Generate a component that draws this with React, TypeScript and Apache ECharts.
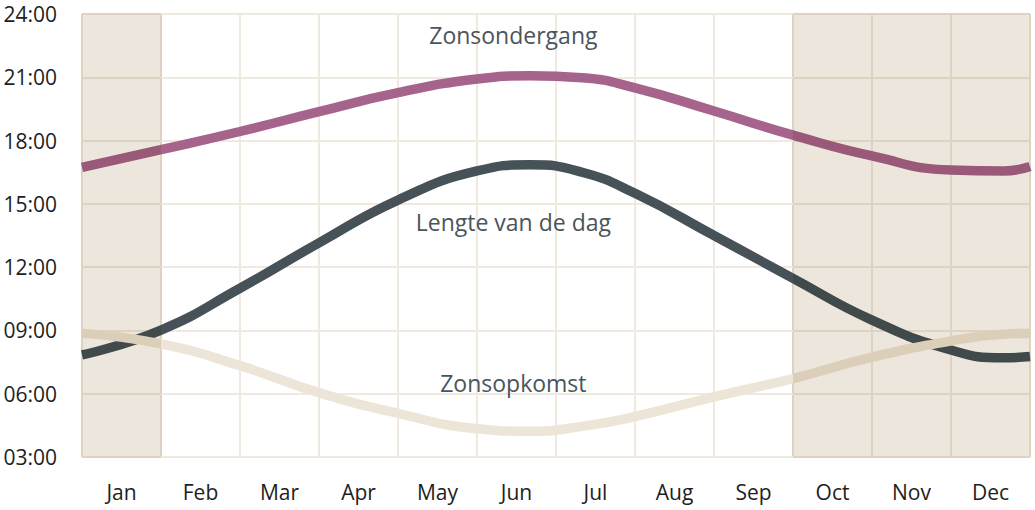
import React, { useEffect, useRef } from "react";
import * as echarts from "echarts";

const months = ["Jan", "Feb", "Mar", "Apr", "May", "Jun", "Jul", "Aug", "Sep", "Oct", "Nov", "Dec"];
const yTickLabels = ["03:00", "06:00", "09:00", "12:00", "15:00", "18:00", "21:00", "24:00"];

// positions along the year, in months from 1 Jan
const positions = [0, 1, 2, 3, 4, 5, 5.67, 6.33, 7, 8, 9, 10, 11, 11.67, 12];
// hours
const sunset = [16.73, 17.57, 18.43, 19.37, 20.27, 20.92, 21.07, 20.98, 20.5, 19.4, 18.26, 17.27, 16.6, 16.56, 16.77];
const dayLength = [7.84, 9.02, 11.0, 13.15, 15.18, 16.56, 16.85, 16.5, 15.5, 13.5, 11.47, 9.49, 8.07, 7.7, 7.76];
const sunrise = [8.86, 8.36, 7.33, 6.05, 5.07, 4.34, 4.22, 4.45, 4.92, 5.85, 6.72, 7.73, 8.5, 8.82, 8.86];

// highlighted months (index into months)
const bandMonths = [0, 9, 10, 11];

const seriesNames = ["Zonsondergang", "Lengte van de dag", "Zonsopkomst"];
const labelAt = { x: 5.46, sunset: 23.0, dayLength: 14.14, sunrise: 6.5 };

const W = 1035;
const H = 510;
const GRID = { left: 82, right: 5, top: 14, bottom: 53 };

const BAND = "#ede6dc";
const GRIDLINE = "#efe9e0";
const C_SUNSET = "#a6638b";
const C_DAY = "#465257";
const C_SUNRISE = "#ede5d8";
const TEXT = "#4a555b";
const FONT = "'Open Sans', Lato, sans-serif";

function hexToRgb(h: string) {
  const n = parseInt(h.slice(1), 16);
  return [(n >> 16) & 255, (n >> 8) & 255, n & 255];
}
function multiply(c: string) {
  const a = hexToRgb(c);
  const b = hexToRgb(BAND);
  const r = a.map((v, i) => Math.round((v * b[i]) / 255));
  return "rgb(" + r.join(",") + ")";
}
function banded(c: string) {
  const d = multiply(c);
  const x0 = GRID.left;
  const x1 = W - GRID.right;
  const stops: { offset: number; color: string }[] = [];
  for (let k = 0; k < 12; k++) {
    const col = bandMonths.includes(k) ? d : c;
    stops.push({ offset: k / 12, color: col });
    stops.push({ offset: (k + 1) / 12, color: col });
  }
  return new echarts.graphic.LinearGradient(x0, 0, x1, 0, stops, true);
}

function pairs(vals: number[]) {
  return positions.map((p, i) => [p, vals[i]]);
}

export default function App() {
  const ref = useRef<HTMLDivElement>(null);
  useEffect(() => {
    if (!ref.current) return;
    const chart = echarts.init(ref.current, null, { renderer: "svg" });
    const vColors: string[] = [];
    for (let k = 0; k <= 12; k++) {
      const inBand = bandMonths.includes(k) || bandMonths.includes(k - 1);
      vColors.push(inBand ? multiply(GRIDLINE) : GRIDLINE);
    }
    const areaColors = months.map((_, k) => (bandMonths.includes(k) ? BAND : "rgba(255,255,255,0)"));
    const mkLabel = (name: string, y: number) => ({
      symbol: "circle",
      symbolSize: 0,
      silent: true,
      label: {
        show: true,
        position: "inside",
        formatter: name,
        color: TEXT,
        fontSize: 23,
        fontFamily: FONT,
      },
      data: [{ coord: [labelAt.x, y] }],
    });
    const lineSeries = (name: string, vals: number[], color: string, y: number) => ({
      type: "line",
      name,
      xAxisIndex: 1,
      yAxisIndex: 0,
      data: pairs(vals),
      smooth: true,
      showSymbol: false,
      lineStyle: { width: 9.5, color: banded(color), cap: "butt" },
      itemStyle: { color },
      markPoint: mkLabel(name, y),
    });
    chart.setOption({
      animation: false,
      backgroundColor: "#ffffff",
      grid: { ...GRID, containLabel: false },
      xAxis: [
        {
          type: "category",
          data: months,
          boundaryGap: true,
          z: 0,
          axisLine: { show: false },
          axisTick: { show: false },
          axisLabel: { color: "#1e1e1e", fontSize: 21, fontFamily: FONT, margin: 24 },
          splitLine: { show: true, lineStyle: { color: vColors, width: 2 } },
          splitArea: { show: true, areaStyle: { color: areaColors } },
        },
        { type: "value", min: 0, max: 12, show: false },
      ],
      yAxis: {
        type: "value",
        min: 3,
        max: 24,
        interval: 3,
        z: 1,
        axisLine: { show: false },
        axisTick: { show: false },
        axisLabel: {
          color: "#1e1e1e",
          fontSize: 21,
          fontFamily: FONT,
          margin: 25,
          formatter: (v: number) => yTickLabels[Math.round((v - 3) / 3)],
        },
        splitLine: { show: true, lineStyle: { color: banded(GRIDLINE), width: 2 } },
      },
      series: [
        lineSeries(seriesNames[0], sunset, C_SUNSET, labelAt.sunset),
        lineSeries(seriesNames[1], dayLength, C_DAY, labelAt.dayLength),
        lineSeries(seriesNames[2], sunrise, C_SUNRISE, labelAt.sunrise),
      ],
    });
    return () => chart.dispose();
  }, []);
  return <div ref={ref} style={{ position: "absolute", left: 0, top: 0, width: W, height: H }} />;
}
